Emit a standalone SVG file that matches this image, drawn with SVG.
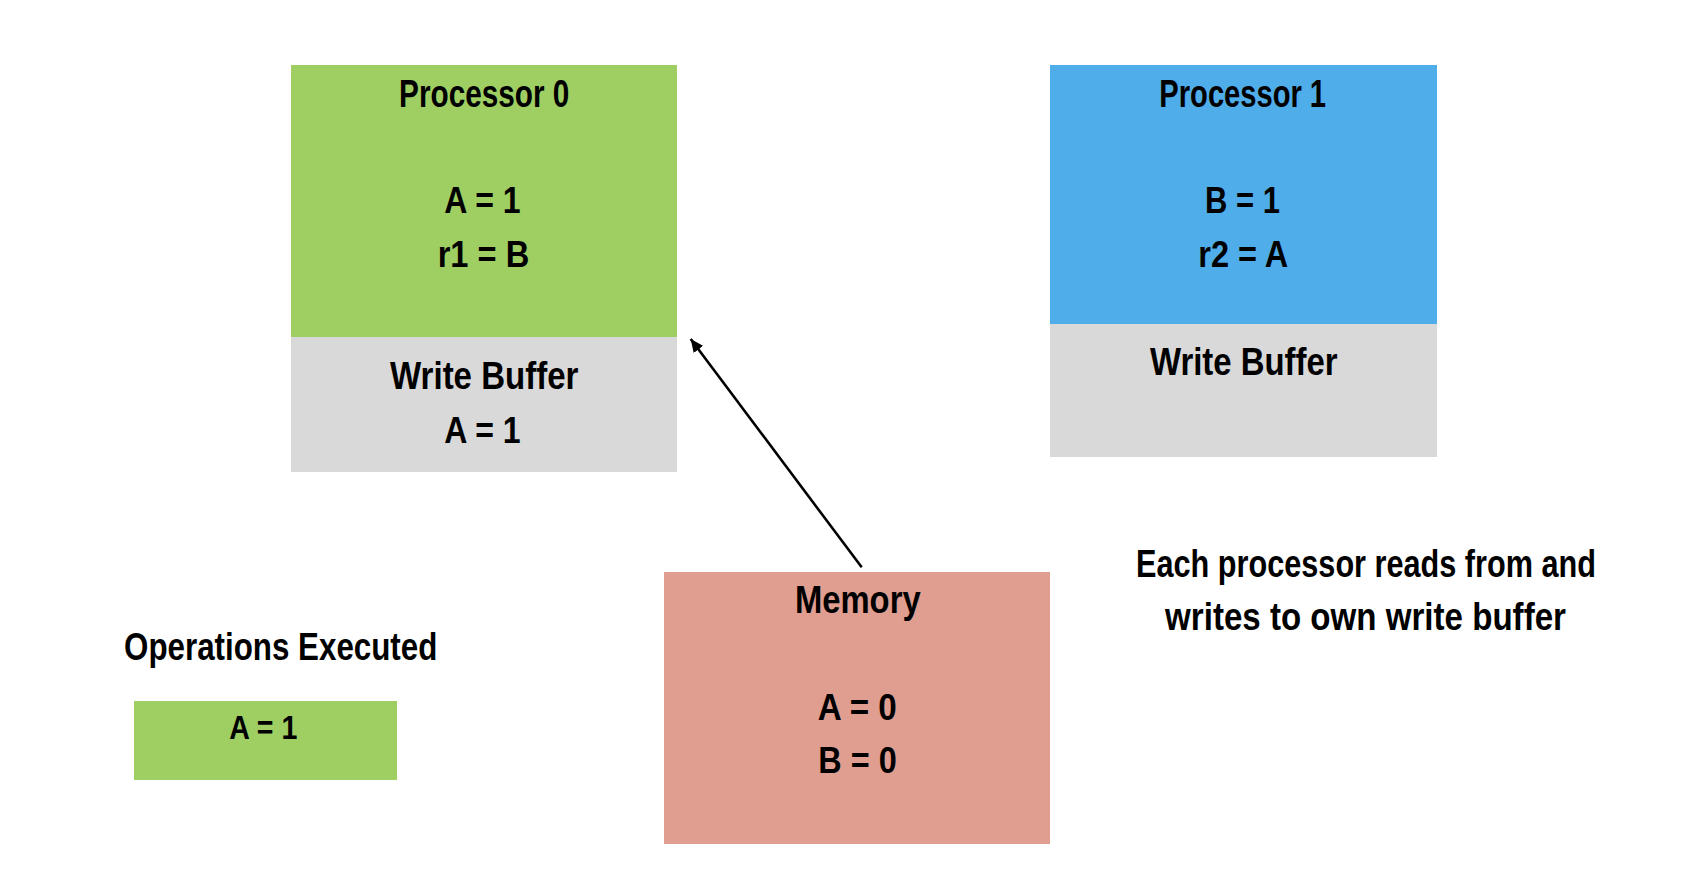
<svg xmlns="http://www.w3.org/2000/svg" width="1700" height="876" viewBox="0 0 1700 876">
<style>
text{font-family:"Liberation Sans",Arial,sans-serif;font-weight:700;fill:#000;text-anchor:middle}
.t{font-size:39.5px}
.v{font-size:36px}
.green{fill:#9FCF63}
.blue{fill:#4FADE9}
.gray{fill:#D9D9D9}
.mem{fill:#E09E90}
.conn{stroke:#000;stroke-width:2.6;fill:none}
</style>
<defs>
<marker id="ah" markerUnits="userSpaceOnUse" markerWidth="14" markerHeight="12" refX="13" refY="6" orient="auto">
<path d="M0,0 L13,6 L0,12 Z" fill="#000"/>
</marker>
</defs>
<rect width="1700" height="876" fill="#fff"/>
<g id="processor0">
<rect class="green" x="291" y="65" width="386" height="272"/>
<rect class="gray" x="291" y="337" width="386" height="135"/>
<text class="t" x="484.2" y="106.7" textLength="170.3" lengthAdjust="spacingAndGlyphs">Processor 0</text>
<text class="v" x="482.5" y="213.3" textLength="76.3" lengthAdjust="spacingAndGlyphs">A = 1</text>
<text class="v" x="483.5" y="266.7" textLength="91.7" lengthAdjust="spacingAndGlyphs">r1 = B</text>
<text class="t" x="484.2" y="389.3" textLength="188.3" lengthAdjust="spacingAndGlyphs">Write Buffer</text>
<text class="v" x="482.5" y="442.7" textLength="76.3" lengthAdjust="spacingAndGlyphs">A = 1</text>
</g>
<g id="processor1">
<rect class="blue" x="1050" y="65" width="387" height="259"/>
<rect class="gray" x="1050" y="324" width="387" height="133"/>
<text class="t" x="1242.7" y="106.7" textLength="166.7" lengthAdjust="spacingAndGlyphs">Processor 1</text>
<text class="v" x="1242.5" y="213.3" textLength="75" lengthAdjust="spacingAndGlyphs">B = 1</text>
<text class="v" x="1243.3" y="266.7" textLength="90" lengthAdjust="spacingAndGlyphs">r2 = A</text>
<text class="t" x="1243.8" y="375" textLength="187.7" lengthAdjust="spacingAndGlyphs">Write Buffer</text>
</g>
<g id="memory">
<rect class="mem" x="664" y="572" width="386" height="272"/>
<text class="t" x="857.8" y="613.3" textLength="125.7" lengthAdjust="spacingAndGlyphs">Memory</text>
<text class="v" x="857.2" y="720" textLength="79" lengthAdjust="spacingAndGlyphs">A = 0</text>
<text class="v" x="857.5" y="772.7" textLength="78.4" lengthAdjust="spacingAndGlyphs">B = 0</text>
</g>
<g id="operations">
<text class="t" x="280.7" y="660" textLength="313.3" lengthAdjust="spacingAndGlyphs">Operations Executed</text>
<rect class="green" x="134" y="701" width="263" height="79"/>
<text class="v" x="263.3" y="739.3" textLength="68" lengthAdjust="spacingAndGlyphs" style="font-size:34px">A = 1</text>
</g>
<g id="note">
<text class="t" transform="translate(1366 577) scale(0.776 1)" x="0" y="0">Each processor reads from and</text>
<text class="t" transform="translate(1365.5 630) scale(0.838 1)" x="0" y="0">writes to own write buffer</text>
</g>
<g id="connectors">
<line class="conn" x1="861.7" y1="567.3" x2="690.7" y2="339" marker-end="url(#ah)"/>
</g>
</svg>
